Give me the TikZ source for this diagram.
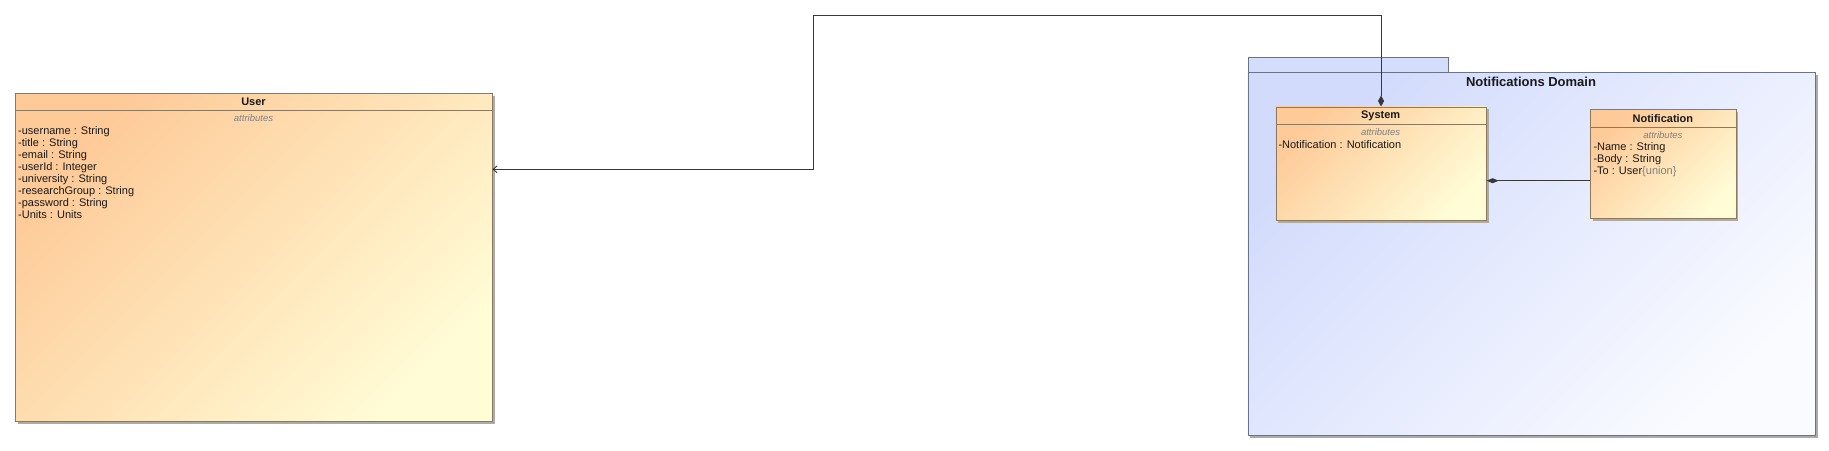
\documentclass[tikz,border=0pt]{standalone}
\usepackage{fontspec}
\setmainfont{Liberation Sans}
\usetikzlibrary{arrows.meta,shadows}
\definecolor{classTL}{RGB}{254,202,152}
\definecolor{classBR}{RGB}{255,252,214}
\definecolor{classBorder}{RGB}{140,120,92}
\definecolor{pkgTL}{RGB}{210,219,252}
\definecolor{pkgBR}{RGB}{250,251,255}
\definecolor{pkgTab}{RGB}{212,221,251}
\definecolor{pkgBorder}{RGB}{105,115,138}
\definecolor{lineCol}{RGB}{55,55,60}
\definecolor{txtCol}{RGB}{25,25,25}
\definecolor{attrCol}{RGB}{128,128,128}
\begin{document}
\begin{tikzpicture}[x=1pt,y=-1pt,
  shadowed/.style={drop shadow={shadow xshift=2.5pt,shadow yshift=-2.5pt,fill=black!33,opacity=1}},
  classbox/.style={draw=classBorder, line width=0.8pt, top color=classTL, bottom color=classBR, shading angle=45, anchor=north west, inner sep=0pt, shadowed},
  pkgbox/.style={draw=pkgBorder, line width=0.8pt, top color=pkgTL, bottom color=pkgBR, shading angle=45, anchor=north west, inner sep=0pt},
  pkgtabbox/.style={draw=pkgBorder, line width=0.8pt, fill=pkgTab, anchor=north west, inner sep=0pt},
  sepline/.style={draw=classBorder, line width=0.8pt},
  ctitle/.style={font=\fontsize{11}{13}\selectfont\bfseries, text=txtCol, inner sep=0pt},
  attrhdr/.style={font=\fontsize{9.5}{11}\selectfont\itshape, text=attrCol, inner sep=0pt},
  attrline/.style={font=\fontsize{11}{13}\selectfont, text=txtCol, inner sep=0pt, anchor=mid west},
  pkgtitle/.style={font=\fontsize{13}{15}\selectfont\bfseries, text=txtCol, inner sep=0pt},
  assoc/.style={draw=lineCol, line width=0.9pt}
]
\useasboundingbox[fill=white] (0,0) rectangle (1829,450);

% package
\node[pkgtabbox, minimum width=200.5pt, minimum height=14.7pt] (pkgtab) at (1247.5,57.3) {};
\node[pkgbox, shadowed, minimum width=567.5pt, minimum height=363pt] (pkg) at (1247.5,72) {};
\node[pkgtitle] (pkgname) at (1531,82.3) {Notifications Domain};

% User class
\node[classbox, minimum width=476.4pt, minimum height=328.6pt] (user) at (15.3,92.7) {};
\draw[sepline] ([yshift=-18pt]user.north west) -- ([yshift=-18pt]user.north east);
\node[ctitle] (usert) at (253.5,101.5) {User};
\node[attrhdr] (usera) at (253.5,117.7) {attributes};
\node[attrline] (u1) at (18,131.6) {-username : String};
\node[attrline] (u2) at (18,143.6) {-title : String};
\node[attrline] (u3) at (18,155.6) {-email : String};
\node[attrline] (u4) at (18,167.6) {-userId : Integer};
\node[attrline] (u5) at (18,179.6) {-university : String};
\node[attrline] (u6) at (18,191.6) {-researchGroup : String};
\node[attrline] (u7) at (18,203.6) {-password : String};
\node[attrline] (u8) at (18,215.6) {-Units : Units};

% System class
\node[classbox, minimum width=210.3pt, minimum height=113.8pt] (sys) at (1275.5,106.5) {};
\draw[sepline] ([yshift=-18pt]sys.north west) -- ([yshift=-18pt]sys.north east);
\node[ctitle] (syst) at (1380.6,115.5) {System};
\node[attrhdr] (sysa) at (1380.6,132) {attributes};
\node[attrline] (s1) at (1278.3,145.6) {-Notification : Notification};

% Notification class
\node[classbox, minimum width=145.2pt, minimum height=109pt] (notif) at (1590.3,109.3) {};
\draw[sepline] ([yshift=-18.2pt]notif.north west) -- ([yshift=-18.2pt]notif.north east);
\node[ctitle] (notift) at (1662.9,118.3) {Notification};
\node[attrhdr] (notifa) at (1662.9,134.7) {attributes};
\node[attrline] (n1) at (1593.3,148.3) {-Name : String};
\node[attrline] (n2) at (1593.3,160.3) {-Body : String};
\node[attrline] (n3) at (1593.3,172.3) {-To : User\textcolor{attrCol}{\{union\}}};

% connectors
\coordinate (topturn) at (813.2,15.3);
\draw[assoc, {Diamond[length=11pt,width=6pt]}-{Straight Barb[length=4pt,width=7pt]}]
  (sys.north) |- (topturn) |- ([yshift=-76.6pt]user.north east);
\draw[assoc, -{Diamond[length=12pt,width=5pt]}]
  ([yshift=-16.5pt]notif.west) -- ([yshift=-16.5pt]notif.west -| sys.east);
\end{tikzpicture}
\end{document}
